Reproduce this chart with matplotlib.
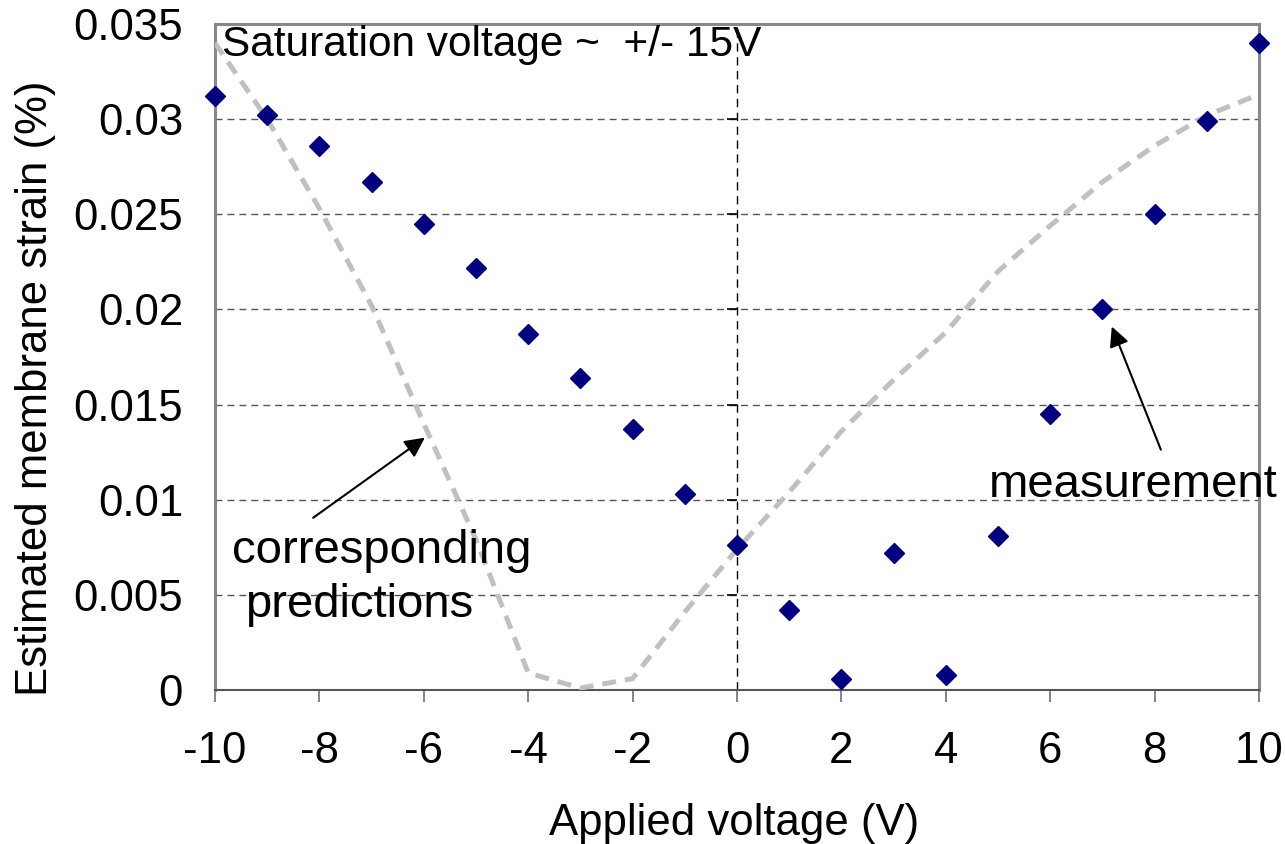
import numpy as np
import matplotlib
matplotlib.use("Agg")
import matplotlib.pyplot as plt

# data
voltage = [-10, -9, -8, -7, -6, -5, -4, -3, -2, -1, 0, 1, 2, 3, 4, 5, 6, 7, 8, 9, 10]
measured = [0.0312, 0.0302, 0.0286, 0.0267, 0.0245, 0.0222, 0.0187, 0.0164, 0.0137, 0.0103,
            0.0076, 0.0042, 0.0006, 0.0072, 0.0008, 0.0081, 0.0145, 0.0200, 0.0250, 0.0299, 0.0340]
predicted = [0.0340, 0.0300, 0.0253, 0.0202, 0.0140, 0.0079, 0.0009, 0.0001, 0.0006, 0.0041,
             0.0074, 0.0104, 0.0136, 0.0163, 0.0188, 0.0220, 0.0244, 0.0267, 0.0286, 0.0302, 0.0313]

xticks = [-10, -8, -6, -4, -2, 0, 2, 4, 6, 8, 10]
yticks = [0, 0.005, 0.01, 0.015, 0.02, 0.025, 0.03, 0.035]
ytick_labels = ["0", "0.005", "0.01", "0.015", "0.02", "0.025", "0.03", "0.035"]

plt.rcParams['font.family'] = ['Liberation Sans', 'DejaVu Sans']
plt.rcParams['axes.unicode_minus'] = False

fig = plt.figure(figsize=(12.85, 8.44), dpi=100)
ax = fig.add_axes([215/1285, 1-690/844, (1259-215)/1285, (690-24)/844])

# predictions (grey dashed) and measurement (navy diamonds)
ax.plot(voltage, predicted, color='#c0c0c0', lw=3.6, linestyle=(0, (2.8, 1.8)), zorder=3)
ax.plot(voltage, measured, ls='none', marker='D', ms=10, color='#000080', zorder=4, clip_on=False)

# value axis crossing at 0 V
ax.axvline(0, color='black', lw=1.0, linestyle=(0, (6, 4)), zorder=2)
ax.plot(np.zeros(len(yticks)), yticks, ls='none', marker=0, ms=7, mew=1.2, color='black', zorder=2)

ax.set_xlim(-10, 10)
ax.set_ylim(0, 0.035)
ax.set_xticks(xticks)
ax.set_xticklabels([str(v) for v in xticks])
ax.set_yticks(yticks)
ax.set_yticklabels(ytick_labels)
ax.yaxis.grid(True, color='#555555', lw=1.0, linestyle=(0, (5, 3.6)))
ax.set_axisbelow(True)

ax.tick_params(axis='x', direction='out', length=8.6, width=1.2, color='#707070',
               labelsize=31.5, pad=21)
ax.tick_params(axis='y', length=0, labelsize=31.5, pad=23)

for side in ['left', 'top', 'right']:
    ax.spines[side].set_color('#888888')
    ax.spines[side].set_linewidth(2.2)
ax.spines['bottom'].set_color('#555555')
ax.spines['bottom'].set_linewidth(1.5)

# labels
fig.text(36/1285, 1-388/844, 'Estimated membrane strain (%)', rotation=90,
         ha='center', va='center', fontsize=31.5)
fig.text(734/1285, 1-835/844, 'Applied voltage (V)', ha='center', va='baseline', fontsize=31.5)

# annotations
ax.text(-9.866, 0.03332, 'Saturation voltage ~  +/- 15V', fontsize=30.5, ha='left', va='baseline')
ax.text(-9.67, 0.00668, 'corresponding', fontsize=34, ha='left', va='baseline')
ax.text(-9.43, 0.00384, 'predictions', fontsize=34, ha='left', va='baseline')
ax.text(4.83, 0.01016, 'measurement', fontsize=34, ha='left', va='baseline')

arrow = dict(arrowstyle='-|>', mutation_scale=30, lw=1.5, color='black', shrinkA=0, shrinkB=0)
ax.annotate('', xy=(-5.98, 0.01326), xytext=(-8.12, 0.00905), arrowprops=arrow)
ax.annotate('', xy=(7.18, 0.0191), xytext=(8.12, 0.01263), arrowprops=arrow)

fig.savefig('out.png', dpi=100)
